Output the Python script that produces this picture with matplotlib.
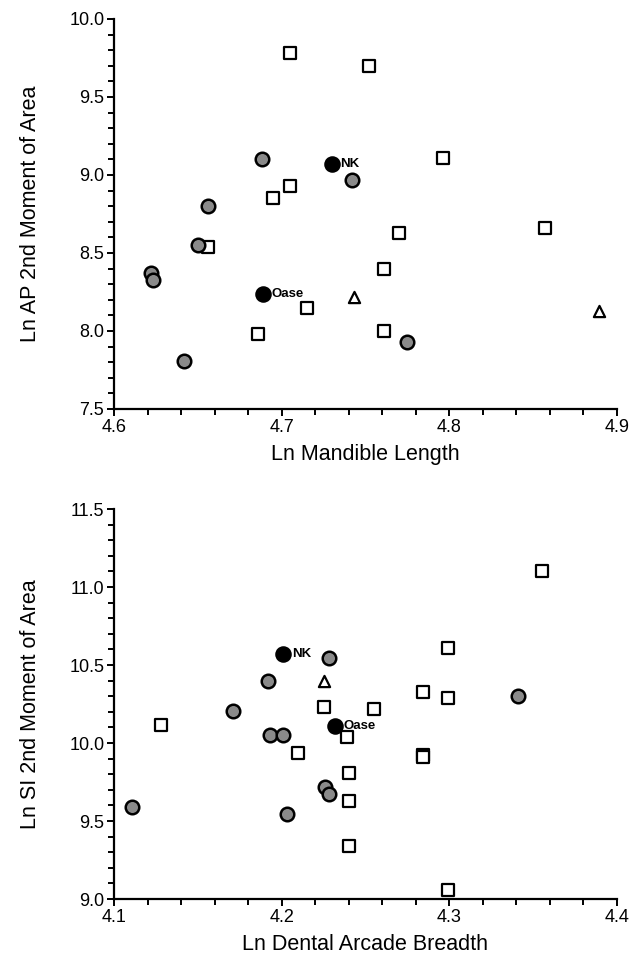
import matplotlib.pyplot as plt
from matplotlib.ticker import MultipleLocator

plt.rcParams['font.family'] = ['Liberation Sans', 'DejaVu Sans']

# top panel: Ln mandible length vs Ln AP 2nd moment of area
top_sq_x = [4.705, 4.752, 4.705, 4.695, 4.656, 4.770, 4.761, 4.715, 4.686, 4.761, 4.796, 4.857]
top_sq_y = [9.78, 9.70, 8.93, 8.85, 8.54, 8.63, 8.40, 8.15, 7.98, 8.00, 9.11, 8.66]
top_tri_x = [4.743, 4.889]
top_tri_y = [8.22, 8.13]
top_gray_x = [4.688, 4.742, 4.656, 4.650, 4.622, 4.623, 4.642, 4.775]
top_gray_y = [9.10, 8.97, 8.80, 8.55, 8.37, 8.33, 7.81, 7.93]
top_fossil_x = [4.730, 4.689]
top_fossil_y = [9.07, 8.24]

# bottom panel: Ln dental arcade breadth vs Ln SI 2nd moment of area
bot_sq_x = [4.225, 4.255, 4.128, 4.239, 4.210, 4.240, 4.240, 4.240,
            4.355, 4.299, 4.284, 4.299, 4.284, 4.284, 4.299]
bot_sq_y = [10.23, 10.22, 10.115, 10.04, 9.935, 9.81, 9.63, 9.34,
            11.10, 10.61, 10.33, 10.29, 9.925, 9.91, 9.06]
bot_tri_x = [4.225]
bot_tri_y = [10.40]
bot_gray_x = [4.228, 4.192, 4.171, 4.193, 4.201, 4.226, 4.228, 4.111, 4.203, 4.341]
bot_gray_y = [10.545, 10.40, 10.205, 10.05, 10.05, 9.72, 9.67, 9.59, 9.545, 10.30]
bot_fossil_x = [4.201, 4.232]
bot_fossil_y = [10.57, 10.11]

fossil_names = ['NK', 'Oase']


def draw_panel(ax, sq, tri, gray, fossil, xlim, ylim, xlabel, ylabel):
    ax.scatter(sq[0], sq[1], marker='s', s=68, facecolors='white',
               edgecolors='black', linewidths=1.6, zorder=3)
    ax.scatter(tri[0], tri[1], marker='^', s=65, facecolors='white',
               edgecolors='black', linewidths=1.6, zorder=3)
    ax.scatter(gray[0], gray[1], marker='o', s=95, facecolors='#8a8a8a',
               edgecolors='black', linewidths=1.8, zorder=3)
    ax.scatter(fossil[0], fossil[1], marker='o', s=115, facecolors='black',
               edgecolors='black', linewidths=1.2, zorder=4)
    for name, fx, fy in zip(fossil_names, fossil[0], fossil[1]):
        ax.annotate(name, (fx, fy), xytext=(6, 0), textcoords='offset points',
                    va='center', ha='left', fontsize=9.5, fontweight='bold')

    ax.set_xlim(*xlim)
    ax.set_ylim(*ylim)
    ax.xaxis.set_major_locator(MultipleLocator(0.1))
    ax.xaxis.set_minor_locator(MultipleLocator(0.02))
    ax.yaxis.set_major_locator(MultipleLocator(0.5))
    ax.yaxis.set_minor_locator(MultipleLocator(0.1))
    ax.xaxis.set_major_formatter(lambda v, p: f'{v:.1f}')
    ax.yaxis.set_major_formatter(lambda v, p: f'{v:.1f}')
    ax.spines['top'].set_visible(False)
    ax.spines['right'].set_visible(False)
    for s in ('left', 'bottom'):
        ax.spines[s].set_linewidth(1.6)
    ax.tick_params(which='both', direction='out', width=1.4, labelsize=13, pad=2)
    ax.tick_params(which='major', length=5)
    ax.tick_params(which='minor', length=4)
    ax.set_xlabel(xlabel, fontsize=15.5, labelpad=6)
    ax.set_ylabel(ylabel, fontsize=15.5, labelpad=20)
    for c in ax.collections:
        c.set_clip_on(False)


fig = plt.figure(figsize=(6.35, 9.59), dpi=100)
ax1 = fig.add_axes([114 / 635, 1 - 409 / 959, 503 / 635, 390 / 959])
ax2 = fig.add_axes([114 / 635, 1 - 899 / 959, 503 / 635, 390 / 959])

draw_panel(ax1, (top_sq_x, top_sq_y), (top_tri_x, top_tri_y),
           (top_gray_x, top_gray_y), (top_fossil_x, top_fossil_y),
           (4.6, 4.9), (7.5, 10.0), 'Ln Mandible Length', 'Ln AP 2nd Moment of Area')
draw_panel(ax2, (bot_sq_x, bot_sq_y), (bot_tri_x, bot_tri_y),
           (bot_gray_x, bot_gray_y), (bot_fossil_x, bot_fossil_y),
           (4.1, 4.4), (9.0, 11.5), 'Ln Dental Arcade Breadth', 'Ln SI 2nd Moment of Area')

fig.savefig('out.png', dpi=100)
